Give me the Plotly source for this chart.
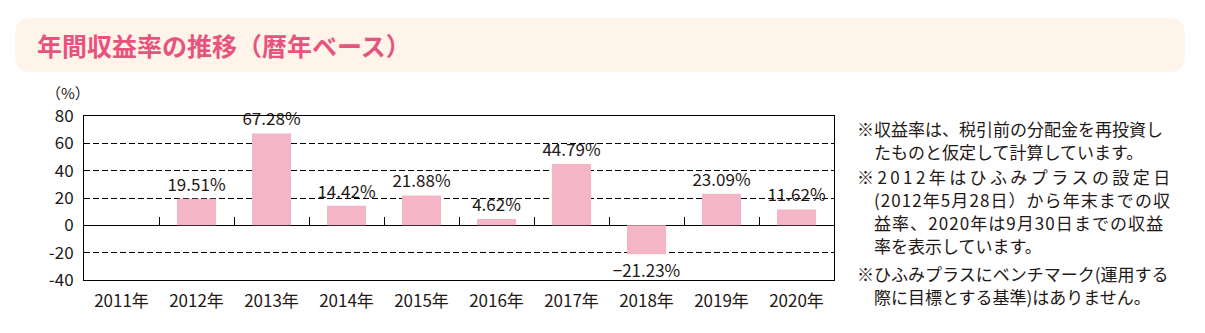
import plotly.graph_objects as go

W, H = 1205, 333

# --- data -------------------------------------------------------------
years = ["2011年", "2012年", "2013年", "2014年", "2015年",
         "2016年", "2017年", "2018年", "2019年", "2020年"]
returns = [None, 19.51, 67.28, 14.42, 21.88, 4.62, 44.79, -21.23, 23.09, 11.62]

y_ticks = [80, 60, 40, 20, 0, -20, -40]
y_tick_text = ["80", "60", "40", "20", "0", "-20", "-40"]

title_text = "年間収益率の推移（暦年ベース）"
unit_text = "（%）"
notes = [
    "※収益率は、税引前の分配金を再投資し",
    "たものと仮定して計算しています。",
    "※2012年はひふみプラスの設定日",
    "(2012年5月28日）から年末までの収",
    "益率、2020年は9月30日までの収益",
    "率を表示しています。",
    "※ひふみプラスにベンチマーク(運用する",
    "際に目標とする基準)はありません。",
]
note_indent = [0, 1, 0, 1, 1, 1, 0, 1]
# extra spacing between characters for the spread-out lines
note_spread = [0, 0, 2, 1, 1, 0, 0, 0]
note_rows = [128, 151, 176, 199, 222, 245, 273, 296]

# --- styling ----------------------------------------------------------
FONT = "Noto Sans CJK JP"
INK = "#231815"
BAR = "#F4B5C7"
TITLE_COLOR = "#E8537D"
BAND = "#FEF4EA"

plot_left, plot_right = 84, 834
plot_top, plot_bottom = 116, 280
y_min, y_max = -40, 80


def px_x(x):
    return x / W


def px_y(y):
    return 1 - y / H


def fmt(v):
    if v is None:
        return ""
    return f"{v:.2f}%".replace("-", "−")


def spread(s, level):
    if level == 0:
        return s
    gap = {1: "\u200a", 2: "\u2009"}[level]
    return gap.join(s)


fig = go.Figure()

fig.add_trace(go.Bar(
    x=years,
    y=returns,
    marker=dict(color=BAR, line=dict(width=0)),
    width=0.52,
    text=[fmt(v) for v in returns],
    textposition="outside",
    textfont=dict(family=FONT, size=17, color=INK),
    constraintext="none",
    cliponaxis=False,
    hoverinfo="skip",
))

y_dom = [px_y(plot_bottom), px_y(plot_top)]
zero_pos = y_dom[0] + (y_dom[1] - y_dom[0]) * (0 - y_min) / (y_max - y_min)

fig.update_layout(
    width=W, height=H,
    autosize=False,
    margin=dict(l=0, r=0, t=0, b=0, pad=0, autoexpand=False),
    paper_bgcolor="white",
    plot_bgcolor="white",
    showlegend=False,
    font=dict(family=FONT, color=INK),
    xaxis=dict(
        domain=[px_x(plot_left), px_x(plot_right)],
        type="category",
        categoryorder="array",
        categoryarray=years,
        range=[-0.5, len(years) - 0.5],
        showline=True, linecolor="black", linewidth=1, mirror=True,
        showgrid=False, ticks="",
        tickfont=dict(family=FONT, size=17, color=INK),
        ticklabelstandoff=6,
        automargin=False,
    ),
    # boundary ticks sitting on the zero line
    xaxis2=dict(
        overlaying="x",
        anchor="free",
        position=zero_pos,
        side="bottom",
        range=[-0.5, len(years) - 0.5],
        tickmode="array",
        tickvals=[i + 0.5 for i in range(len(years) - 1)],
        ticks="inside", ticklen=8, tickwidth=1, tickcolor="black",
        showticklabels=False, showline=False, showgrid=False,
        zeroline=False,
        automargin=False,
    ),
    yaxis=dict(
        domain=y_dom,
        range=[y_min, y_max],
        tickmode="array",
        tickvals=y_ticks,
        ticktext=y_tick_text,
        showline=True, linecolor="black", linewidth=1, mirror=True,
        showgrid=True, gridcolor="black", gridwidth=1, griddash="6px,3px",
        zeroline=True, zerolinecolor="black", zerolinewidth=1,
        ticks="",
        tickfont=dict(family=FONT, size=17, color=INK),
        ticklabelstandoff=6,
        automargin=False,
    ),
    bargap=0.48,
)

# an empty trace keeps the zero-line tick axis alive
fig.add_trace(go.Scatter(x=[None], y=[None], xaxis="x2", yaxis="y",
                         mode="markers", hoverinfo="skip", showlegend=False))

# rounded heading band
bx0, bx1, by0, by1, r = 15, 1185, 18, 72, 16
rx, ry = r / W, r / H
X0, X1, Y0, Y1 = px_x(bx0), px_x(bx1), px_y(by1), px_y(by0)
path = (
    f"M {X0 + rx},{Y1} L {X1 - rx},{Y1} Q {X1},{Y1} {X1},{Y1 - ry} "
    f"L {X1},{Y0 + ry} Q {X1},{Y0} {X1 - rx},{Y0} "
    f"L {X0 + rx},{Y0} Q {X0},{Y0} {X0},{Y0 + ry} "
    f"L {X0},{Y1 - ry} Q {X0},{Y1} {X0 + rx},{Y1} Z"
)
fig.add_shape(type="path", path=path, xref="paper", yref="paper",
              fillcolor=BAND, line=dict(width=0), layer="below")

fig.add_annotation(
    x=px_x(35), y=px_y(45), xref="paper", yref="paper",
    xanchor="left", yanchor="middle", showarrow=False,
    text=f"<b>{title_text}</b>",
    font=dict(family=FONT, size=25, color=TITLE_COLOR),
)

# unit label above the value axis
fig.add_annotation(
    x=px_x(44), y=px_y(92), xref="paper", yref="paper",
    xanchor="left", yanchor="middle", showarrow=False,
    text=unit_text, font=dict(family=FONT, size=15, color=INK),
)

# footnotes
for line, indent, lvl, row in zip(notes, note_indent, note_spread, note_rows):
    fig.add_annotation(
        x=px_x(855 + 17 * indent), y=px_y(row), xref="paper", yref="paper",
        xanchor="left", yanchor="middle", showarrow=False,
        text=spread(line, lvl), font=dict(family=FONT, size=17, color=INK),
    )

fig.write_html("out.html")
